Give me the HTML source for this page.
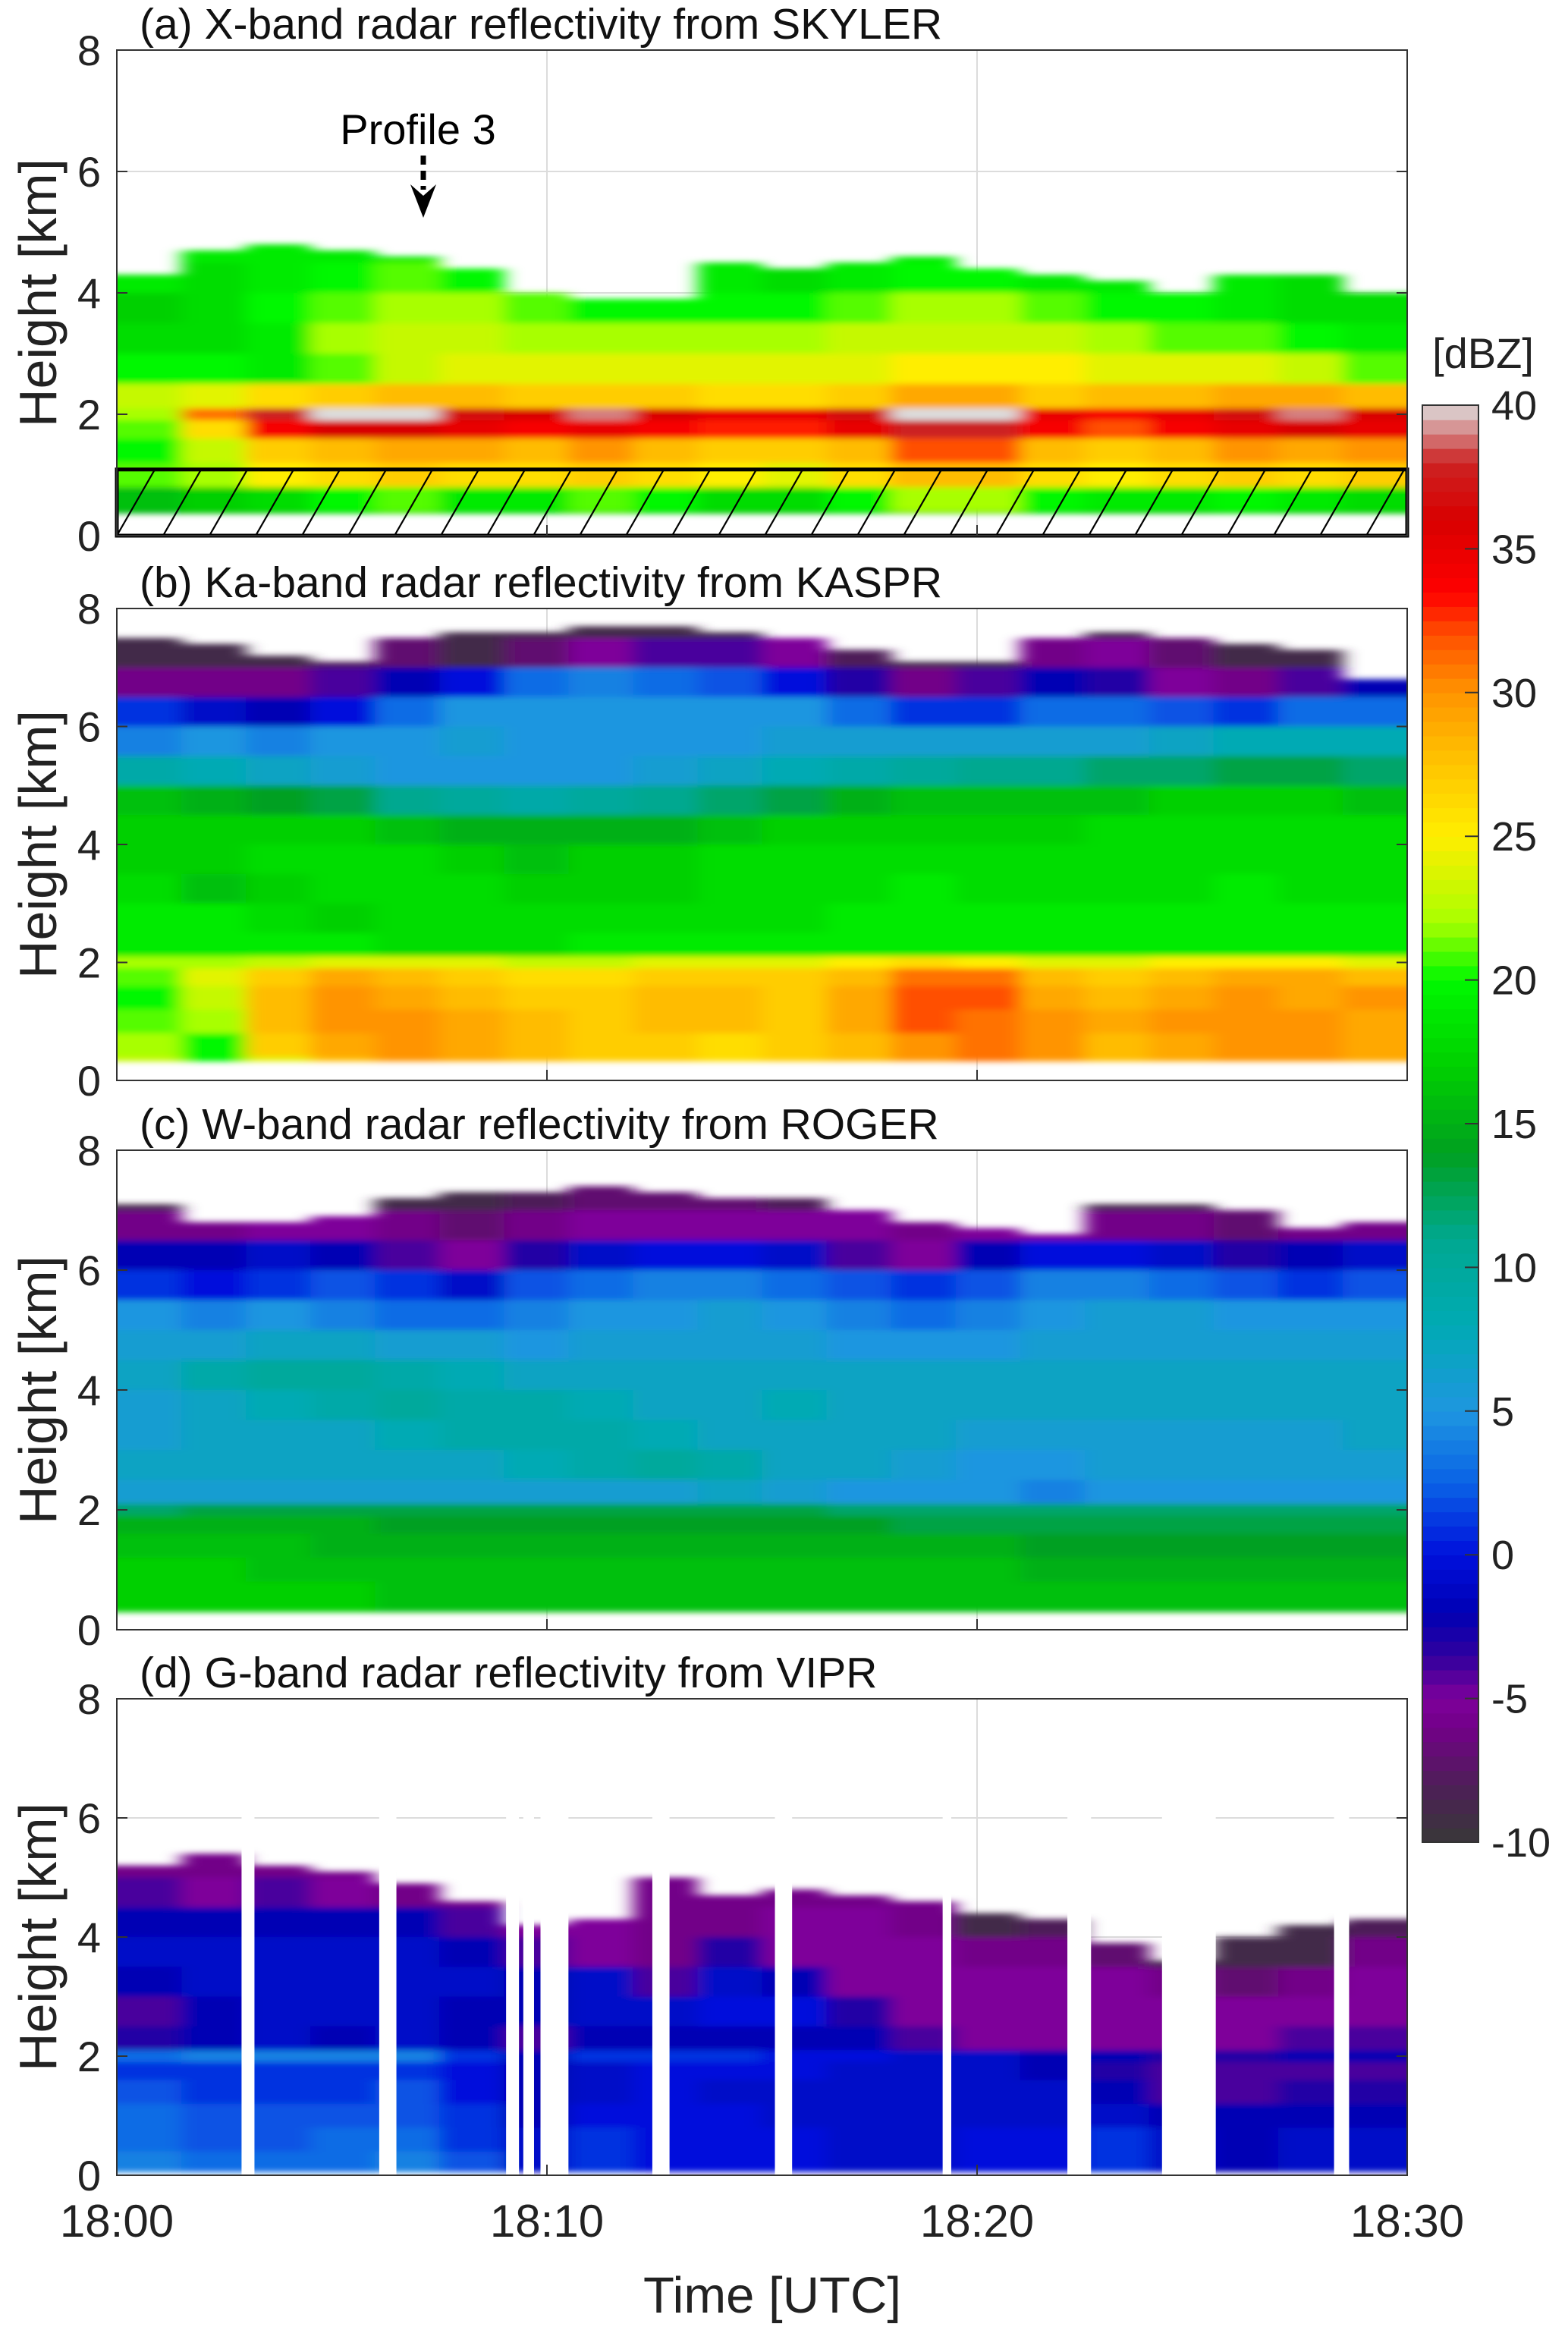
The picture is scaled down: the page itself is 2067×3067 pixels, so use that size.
<!DOCTYPE html>
<html><head><meta charset="utf-8"><title>Radar reflectivity panels</title>
<style>
html,body{margin:0;padding:0;background:#fff;}
svg{display:block;font-family:"Liberation Sans",Arial,sans-serif;}
</style></head>
<body>
<svg id="fig" width="2067" height="3067" viewBox="0 0 2067 3067" xmlns="http://www.w3.org/2000/svg">
<defs>
<filter id="blur" x="-5%" y="-5%" width="110%" height="110%"><feGaussianBlur stdDeviation="12 4"/></filter>
<pattern id="hatch" patternUnits="userSpaceOnUse" width="61" height="87" x="154" y="619">
<line x1="0" y1="87" x2="50" y2="0" stroke="#000" stroke-width="2.2"/>
<line x1="61" y1="87" x2="111" y2="0" stroke="#000" stroke-width="2.2"/>
</pattern>
</defs>
<g id="panels"></g>
<g id="cbar"></g>
<text x="1018" y="3048" font-size="67" text-anchor="middle" fill="#222">Time [UTC]</text>
</svg>
<script>
const n = null;
// time (minutes after 18:00) of column starts — 20 columns of 1.5 min
const colStarts = [0,1.5,3,4.5,6,7.5,9,10.5,12,13.5,15,16.5,18,19.5,21,22.5,24,25.5,27,28.5];
// height bin edges in km (bottom to top)
const binEdges = [0,0.4,0.8,1.2,1.6,1.9,2.1,2.5,3.0,3.5,4.0,4.5,5.0,5.5,6.0,6.5,7.0,7.5,8.0];
const xTicks = [0,10,20,30];
const xTickLabels = ["18:00","18:10","18:20","18:30"];
const yTicks = [0,2,4,6,8];
const cbarTicks = [40,35,30,25,20,15,10,5,0,-5,-10];

// ---- Panel (a) X-band, rows listed top bin (7.5-8) to bottom bin (0-0.4)
const topA = [4.3,4.7,4.8,4.7,4.6,4.4,4.0,3.9,3.9,4.5,4.4,4.5,4.6,4.4,4.3,4.2,4.0,4.3,4.3,4.0];
const floorA = 0.37;
const gridA = [
[n,n,n,n,n,n,n,n,n,n,n,n,n,n,n,n,n,n,n,n],
[n,n,n,n,n,n,n,n,n,n,n,n,n,n,n,n,n,n,n,n],
[n,n,n,n,n,n,n,n,n,n,n,n,n,n,n,n,n,n,n,n],
[n,n,n,n,n,n,n,n,n,n,n,n,n,n,n,n,n,n,n,n],
[n,n,n,n,n,n,n,n,n,n,n,n,n,n,n,n,n,n,n,n],
[19,19,19,19,19,19,19,19,19,19,19,19,19,19,19,19,19,19,19,19],
[19,19,19,19,19,19,19,19,19,19,19,19,19,19,19,19,19,19,19,19],
[19,18,19,20,21,20,20,20,20,19,18,19,20,20,19,19,19,19,18,19],
[17,18,20,21,22,22,21,20,20,20,20,21,22,22,21,20,20,19,18,18],
[18,18,19,22,23,23,22,22,22,22,22,23,23,23,23,22,21,21,20,19],
[20,20,19,21,23,24,24,24,24,24,24,24,25,25,25,24,24,24,23,21],
[23,24,26,27,28,28,27,27,27,26,26,27,29,29,27,28,28,29,29,28],
[22,31,38,40,40,37,36,39,36,35,35,37,40,40,35,34,35,37,39,36],
[21,26,34,36,36,35,34,35,34,33,33,35,38,38,34,32,34,35,36,35],
[20,23,27,28,29,29,28,30,28,27,27,28,32,32,28,27,28,30,29,30],
[21,22,25,26,27,26,26,27,26,25,24,26,28,28,26,25,26,27,26,27],
[16,17,18,20,21,19,19,21,20,18,18,20,22,22,20,19,19,20,19,18],
[15,16,16,17,18,17,17,18,17,16,16,17,18,18,17,16,16,17,16,16]
];
// ---- Panel (b) Ka-band
const topB = [7.5,7.4,7.2,7.1,7.5,7.6,7.6,7.7,7.7,7.6,7.5,7.3,7.1,7.1,7.5,7.6,7.5,7.4,7.3,6.8];
const floorB = 0.33;
const gridB = [
[-9,-9,-9,-9,-9,-9,-9,-9,-9,-9,-9,-9,-9,-9,-9,-9,-9,-9,-9,-9],
[-9,-9,-9,-8,-7,-9,-7,-5,-4,-4,-5,-8,-9,-9,-6,-5,-7,-9,-9,-9],
[-6,-6,-6,-4,-2,0,3,4,3,2,0,-3,-6,-4,-2,-3,-5,-6,-4,-2],
[1,-1,-2,0,3,5,5,5,5,5,5,3,1,1,3,3,2,1,3,3],
[4,5,4,5,5,6,5,5,5,5,6,6,6,6,6,6,7,8,8,8],
[9,8,7,6,5,5,5,5,6,7,8,9,10,11,11,12,12,13,13,12],
[16,15,14,13,11,10,9,10,11,12,13,15,16,16,16,16,17,17,17,16],
[17,17,17,17,16,15,15,15,15,16,17,17,17,17,17,18,18,18,18,18],
[17,17,18,18,18,17,16,17,17,18,18,18,18,18,18,18,18,18,18,18],
[18,16,17,18,18,18,17,17,17,18,18,18,19,18,18,18,18,19,18,18],
[19,19,18,17,18,18,18,18,18,18,18,19,19,19,19,19,19,19,19,19],
[19,19,19,19,18,18,18,19,19,19,19,19,19,19,19,19,19,19,19,19],
[22,22,23,24,24,24,23,23,24,24,24,25,26,25,24,24,25,25,25,24],
[21,24,27,29,28,27,26,26,27,27,27,28,31,31,28,27,28,29,29,28],
[20,23,28,30,29,28,27,27,28,28,27,29,32,32,29,28,29,30,29,30],
[21,22,28,30,30,29,28,27,28,28,27,29,32,31,30,29,30,30,30,29],
[22,20,27,29,30,29,28,27,27,26,27,28,30,31,30,28,29,30,30,29],
[23,20,24,28,30,29,28,27,27,26,27,28,30,31,30,28,29,30,30,29]
];
// ---- Panel (c) W-band
const topC = [7.1,6.8,6.8,6.9,7.2,7.3,7.3,7.4,7.3,7.2,7.2,7.0,6.8,6.7,6.6,7.1,7.1,7.0,6.7,6.8];
const floorC = 0.3;
const gridC = [
[-9,-9,-9,-9,-9,-9,-9,-9,-9,-9,-9,-9,-9,-9,-9,-9,-9,-9,-9,-9],
[-9,-9,-9,-9,-9,-9,-8,-7,-7,-7,-8,-9,-9,-9,-9,-9,-9,-9,-9,-9],
[-6,-6,-5,-5,-6,-7,-6,-5,-5,-5,-5,-5,-6,-5,-5,-6,-6,-7,-6,-6],
[-2,-2,-1,-2,-4,-5,-3,-1,0,0,-1,-4,-5,-2,0,0,-1,-3,-2,-1],
[1,0,1,2,1,-1,2,3,4,4,3,2,1,2,4,4,3,2,1,2],
[5,4,5,4,3,3,4,5,5,6,5,4,3,4,5,6,6,5,5,5],
[6,6,7,7,6,6,5,6,6,6,6,5,5,5,6,6,6,6,6,6],
[7,9,10,10,9,8,7,7,7,7,7,7,7,7,7,7,7,7,7,7],
[6,7,8,9,10,9,9,8,7,7,8,7,7,7,7,7,7,7,7,7],
[6,7,7,7,8,9,9,9,8,7,7,7,7,6,6,6,6,6,6,7],
[7,7,7,7,7,7,8,9,10,9,7,7,6,5,5,6,6,6,6,6],
[6,6,6,6,6,6,6,6,6,7,6,5,5,5,4,5,5,5,5,5],
[12,13,13,13,13,13,13,13,13,13,13,12,12,12,12,12,12,12,12,12],
[15,15,15,15,14,14,14,14,14,14,14,14,13,13,13,13,13,13,13,13],
[16,16,16,15,15,15,15,15,15,15,15,15,15,15,14,14,14,14,14,14],
[17,17,16,16,16,16,16,16,16,16,16,16,16,16,15,15,15,15,15,15],
[17,17,17,17,16,16,16,16,16,16,16,16,16,16,16,16,16,16,16,16],
[17,17,17,17,16,16,16,16,16,16,16,16,16,16,16,16,16,16,16,16]
];
// ---- Panel (d) G-band
const topD = [5.2,5.4,5.2,5.1,4.9,4.6,4.2,4.3,5.0,4.7,4.8,4.7,4.6,4.4,4.3,3.9,3.6,4.0,4.2,4.3];
const floorD = 0.06;
const gapsD = [[2.9,3.2],[6.1,6.5],[9.05,9.35],[9.45,9.7],[9.85,10.5],[12.45,12.85],[15.3,15.7],[19.2,19.4],[22.1,22.65],[24.3,25.55],[28.3,28.65]];
const gridD = [
[n,n,n,n,n,n,n,n,n,n,n,n,n,n,n,n,n,n,n,n],
[n,n,n,n,n,n,n,n,n,n,n,n,n,n,n,n,n,n,n,n],
[n,n,n,n,n,n,n,n,n,n,n,n,n,n,n,n,n,n,n,n],
[n,n,n,n,n,n,n,n,n,n,n,n,n,n,n,n,n,n,n,n],
[n,n,n,n,n,n,n,n,n,n,n,n,n,n,n,n,n,n,n,n],
[-6,-6,-6,-6,-6,-6,-6,-6,-6,-6,-6,-6,-6,-6,-6,-6,-6,-6,-6,-6],
[-4,-5,-4,-5,-6,-6,-6,-6,-6,-6,-6,-6,-6,-8,-8,-8,-9,-9,-9,-9],
[-2,-2,-2,-2,-2,-4,-5,-5,-6,-6,-5,-5,-6,-9,-8,-9,-9,-9,-9,-8],
[-1,-1,-1,-1,-1,-2,-4,-5,-6,-3,-5,-5,-5,-6,-6,-7,-9,-9,-9,-6],
[-2,-1,-1,-1,-1,-1,-2,-1,-4,-1,-2,-5,-5,-5,-5,-5,-6,-7,-6,-5],
[-4,-2,-1,-1,-1,-2,-2,-1,-1,0,0,-3,-5,-5,-5,-5,-5,-5,-5,-5],
[-3,-2,-1,-2,-1,-2,-4,-2,-2,-2,-2,-2,-4,-5,-5,-5,-5,-5,-4,-4],
[3,4,4,4,4,1,-2,1,1,1,0,0,-1,-1,-2,-2,-3,-3,-2,-2],
[1,1,1,1,1,0,-2,-1,0,0,0,-1,-1,-1,-2,-3,-4,-4,-4,-4],
[2,1,1,1,2,0,-2,-1,0,-1,-1,-1,-1,-1,-1,-2,-4,-4,-3,-3],
[3,2,2,2,2,1,-2,0,0,0,-1,-1,-1,-1,-1,-1,-2,-2,-2,-2],
[3,2,2,3,3,1,-1,1,0,0,0,-1,-1,0,0,1,-1,-2,-1,-1],
[4,3,3,3,4,2,-1,1,0,0,0,-1,-1,0,0,1,-1,-2,-1,-1]
];

// ---- colour map (dBZ -> colour)
const cmapVals = [-10,-8,-6,-5,-3.5,-2,0,2.5,5,8,11,14,17,20,22,25,28,30,32,33.5,36,38,40];
const cmapCols = ["#383838","#4e1f58","#720088","#7e009a","#30009e","#0000b4","#0010dc","#0a62e6","#1e96e0","#00aab4","#00a890","#00a020","#00d000","#00f800","#a8ff00","#ffee00","#ffbc00","#ff9400","#ff5000","#ff0000","#d80000","#cc2222","#dcdcdc"];
function hex2rgb(h){return [parseInt(h.substr(1,2),16),parseInt(h.substr(3,2),16),parseInt(h.substr(5,2),16)];}
function cmap(v){
  if(v<=cmapVals[0]) return cmapCols[0];
  for(let i=1;i<cmapVals.length;i++){
    if(v<=cmapVals[i]){
      const t=(v-cmapVals[i-1])/(cmapVals[i]-cmapVals[i-1]);
      const a=hex2rgb(cmapCols[i-1]), b=hex2rgb(cmapCols[i]);
      return "rgb("+a.map((c,k)=>Math.round(c+(b[k]-c)*t)).join(",")+")";
    }
  }
  return cmapCols[cmapCols.length-1];
}

const NS="http://www.w3.org/2000/svg";
function mk(tag,attrs,parent){const e=document.createElementNS(NS,tag);for(const k in attrs)e.setAttribute(k,attrs[k]);if(parent)parent.appendChild(e);return e;}

const X0=154, X1=1855;
const xScale = t => X0 + (X1-X0)*t/30;
const panels = [
 {id:"a", top:66, bot:706, title:"(a) X-band radar reflectivity from SKYLER", grid:gridA, tops:topA, floor:floorA},
 {id:"b", top:802, bot:1424, title:"(b) Ka-band radar reflectivity from KASPR", grid:gridB, tops:topB, floor:floorB},
 {id:"c", top:1516, bot:2148, title:"(c) W-band radar reflectivity from ROGER", grid:gridC, tops:topC, floor:floorC},
 {id:"d", top:2239, bot:2867, title:"(d) G-band radar reflectivity from VIPR", grid:gridD, tops:topD, floor:floorD, gaps:gapsD}
];
const root=document.getElementById("panels");
panels.forEach(p=>{
  const yScale = h => p.bot - (p.bot-p.top)*h/8;
  const g=mk("g",{},root);
  
  
  const cp=mk("clipPath",{id:"clip-"+p.id},g);
  mk("rect",{x:X0,y:p.top,width:X1-X0,height:p.bot-p.top},cp);
  const gl=mk("g",{stroke:"#dcdcdc","stroke-width":2},g);
  
  
  [10,20].forEach(t=>mk("line",{x1:xScale(t),x2:xScale(t),y1:p.top,y2:p.bot},gl));
  [2,4,6].forEach(h=>mk("line",{x1:X0,x2:X1,y1:yScale(h),y2:yScale(h)},gl));
  const clipG=mk("g",{"clip-path":"url(#clip-"+p.id+")"},g);
  const hm=mk("g",{filter:"url(#blur)"},clipG);
  
  
  const nb=binEdges.length-1;
  for(let r=0;r<p.grid.length;r++){
    const b=nb-1-r;
    for(let c=0;c<colStarts.length;c++){
      const v=p.grid[r][c]; if(v===null) continue;
      let lo=Math.max(binEdges[b],p.floor), hi=Math.min(binEdges[b+1],p.tops[c]);
      if(hi<=lo) continue;
      let t0=colStarts[c], t1=(c+1<colStarts.length)?colStarts[c+1]:30;
      let xa=xScale(t0), xb=xScale(t1);
      if(c===0) xa-=40; if(c===colStarts.length-1) xb+=40;
      const rc=mk("rect",{x:xa.toFixed(1),y:yScale(hi).toFixed(1),width:(xb-xa+0.6).toFixed(1),height:(yScale(lo)-yScale(hi)+0.6).toFixed(1),fill:cmap(v)},hm);
      
      
    }
  }
  if(p.gaps){
    p.gaps.forEach(gp=>{
      const gr=mk("rect",{x:xScale(gp[0]),y:p.top,width:xScale(gp[1])-xScale(gp[0]),height:p.bot-p.top,fill:"#fff"},clipG);
      
      
    });
  }
  if(p.id==="a"){
    const hb=mk("rect",{x:X0,y:yScale(1.09),width:X1-X0,height:yScale(0)-yScale(1.09),fill:"url(#hatch)",stroke:"#000","stroke-width":5},g);
    
    
    const ann=mk("g",{},g);
    
    
    const tx=mk("text",{x:551,y:190,"font-size":56,"text-anchor":"middle",fill:"#000"},ann);
    tx.textContent="Profile 3";
    mk("line",{x1:558,x2:558,y1:205,y2:250,stroke:"#000","stroke-width":7,"stroke-dasharray":"12 8"},ann);
    mk("path",{d:"M541 243 L558 287 L575 243 L558 258 Z",fill:"#000"},ann);
  }
  const fr=mk("rect",{x:X0,y:p.top,width:X1-X0,height:p.bot-p.top,fill:"none",stroke:"#333","stroke-width":2},g);
  
  
  yTicks.forEach(h=>{
    mk("line",{x1:X0,x2:X0+14,y1:yScale(h),y2:yScale(h),stroke:"#333","stroke-width":2},g);
    mk("line",{x1:X1-14,x2:X1,y1:yScale(h),y2:yScale(h),stroke:"#333","stroke-width":2},g);
    const tl=mk("text",{x:133,y:yScale(h)+20,"font-size":56,"text-anchor":"end",fill:"#222"},g);
    tl.textContent=String(h);
    
    
  });
  xTicks.forEach(t=>{
    mk("line",{x1:xScale(t),x2:xScale(t),y1:p.bot,y2:p.bot-14,stroke:"#333","stroke-width":2},g);
  });
  const tt=mk("text",{x:184,y:p.top-15,"font-size":57,fill:"#111"},g);
  tt.textContent=p.title;
  
  
  const yl=mk("text",{x:0,y:0,"font-size":70,"text-anchor":"middle",fill:"#222",transform:"translate(74,"+((p.top+p.bot)/2)+") rotate(-90)"},g);
  yl.textContent="Height [km]";
  
  
});
xTicks.forEach((t,i)=>{
  const e=mk("text",{x:xScale(t),y:2948,"font-size":60,"text-anchor":"middle",fill:"#222"},document.getElementById("fig"));
  e.textContent=xTickLabels[i];
  
  
});
const cb=document.getElementById("cbar");
const CB0=534, CB1=2428, CBX=1875, CBW=74;
const cScale = v => CB1 - (CB1-CB0)*(v+10)/50;
for(let v=-10; v<40; v+=0.5){
  mk("rect",{x:CBX,y:cScale(v+0.5),width:CBW,height:cScale(v)-cScale(v+0.5)+0.8,fill:cmap(v+0.25)},cb);
}
mk("rect",{x:CBX,y:CB0,width:CBW,height:CB1-CB0,fill:"none",stroke:"#333","stroke-width":2},cb);
cbarTicks.forEach(v=>{
  mk("line",{x1:CBX+CBW-18,x2:CBX+CBW,y1:cScale(v),y2:cScale(v),stroke:"#333","stroke-width":2},cb);
  const e=mk("text",{x:1966,y:cScale(v)+19,"font-size":54,fill:"#222"},cb);
  e.textContent=String(v);
  
  
});
const cu=mk("text",{x:1955,y:485,"font-size":56,"text-anchor":"middle",fill:"#222"},cb);
cu.textContent="[dBZ]";


</script>
</body></html>
